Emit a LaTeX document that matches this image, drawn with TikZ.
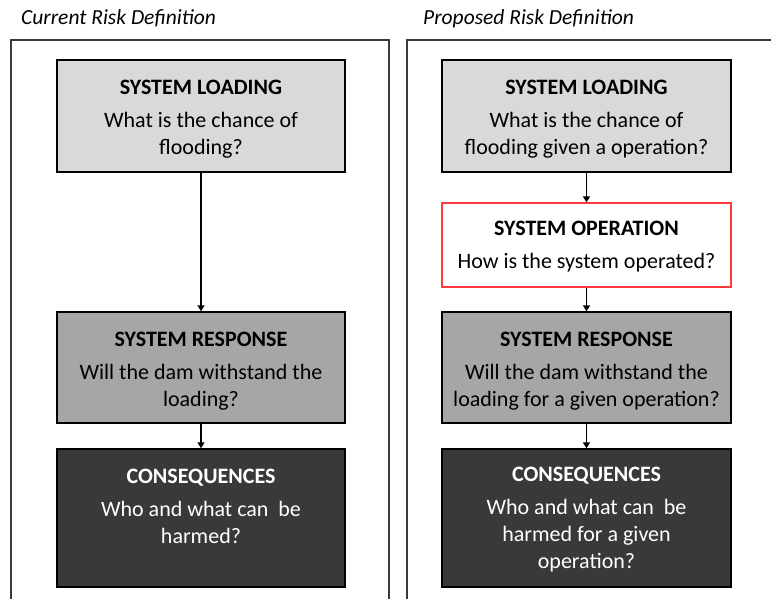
\documentclass[tikz,border=0pt]{standalone}
\usepackage{fontspec}
\setmainfont{Carlito}
\usetikzlibrary{arrows.meta}
\definecolor{loadgray}{HTML}{D9D9D9}
\definecolor{respgray}{HTML}{A6A6A6}
\definecolor{consdark}{HTML}{3B3838}
\definecolor{opred}{HTML}{FF3B3B}
\definecolor{framegray}{HTML}{3A3A3A}
\begin{document}
\begin{tikzpicture}[x=1pt,y=-1pt,
  frame/.style={draw=framegray,line width=1.1pt},
  panel title/.style={font=\fontsize{21.5}{25}\selectfont\itshape,anchor=base west,inner sep=0pt},
  stagebox/.style={draw=black,line width=1.4pt,rectangle,inner sep=0pt},
  stagetext/.style={anchor=north,inner sep=0pt,align=center,
    font=\fontsize{22}{27}\selectfont},
  flow/.style={line width=1.7pt,-{Triangle[length=6pt,width=7pt]}}
]
\useasboundingbox (0,0) rectangle (771,599);
\clip (0,0) rectangle (771,599);

% panel headings
\node[panel title] (tcur) at (21,25) {Current Risk Definition};
\node[panel title] (tprop) at (423,25) {Proposed Risk Definition};

% panel frames (run past the lower and right edges)
\draw[frame] (11,610) -- (11,40) -- (389,40) -- (389,610);
\draw[frame] (407,610) -- (407,40) -- (790,40);

% ---- current definition ----
\node[stagebox,fill=loadgray,minimum width=288pt,minimum height=112pt] (lload) at (201,116) {};
\node[stagebox,fill=respgray,minimum width=288pt,minimum height=111pt] (lresp) at (201,367.5) {};
\node[stagebox,fill=consdark,minimum width=288pt,minimum height=138pt] (lcons) at (201,518) {};

\node[stagetext] (lloadt) at ([yshift=-21pt]lload.north)
  {\textbf{SYSTEM LOADING}\\[6pt]What is the chance of\\flooding?};
\node[stagetext] (lrespt) at ([yshift=-21pt]lresp.north)
  {\textbf{SYSTEM RESPONSE}\\[6pt]Will the dam withstand the\\loading?};
\node[stagetext,text=white] (lconst) at ([yshift=-21pt]lcons.north)
  {\textbf{CONSEQUENCES}\\[6pt]Who and what can\ \ be\\harmed?};

\draw[flow] (lload) -- (lresp);
\draw[flow] (lresp) -- (lcons);

% ---- proposed definition ----
\node[stagebox,fill=loadgray,minimum width=289pt,minimum height=112pt] (rload) at (586.5,116) {};
\node[stagebox,draw=opred,fill=white,minimum width=289pt,minimum height=84pt] (rop) at (586.5,245) {};
\node[stagebox,fill=respgray,minimum width=289pt,minimum height=111pt] (rresp) at (586.5,367.5) {};
\node[stagebox,fill=consdark,minimum width=289pt,minimum height=138pt] (rcons) at (586.5,518) {};

\node[stagetext] (rloadt) at ([yshift=-21pt]rload.north)
  {\textbf{SYSTEM LOADING}\\[6pt]What is the chance of\\flooding given a operation?};
\node[stagetext] (ropt) at ([yshift=-19pt]rop.north)
  {\textbf{SYSTEM OPERATION}\\[6pt]How is the system operated?};
\node[stagetext] (rrespt) at ([yshift=-21pt]rresp.north)
  {\textbf{SYSTEM RESPONSE}\\[6pt]Will the dam withstand the\\loading for a given operation?};
\node[stagetext,text=white] (rconst) at ([yshift=-19pt]rcons.north)
  {\textbf{CONSEQUENCES}\\[6pt]Who and what can\ \ be\\harmed for a given\\operation?};

\draw[flow] (rload) -- (rop);
\draw[flow] (rop) -- (rresp);
\draw[flow] (rresp) -- (rcons);
\end{tikzpicture}
\end{document}
